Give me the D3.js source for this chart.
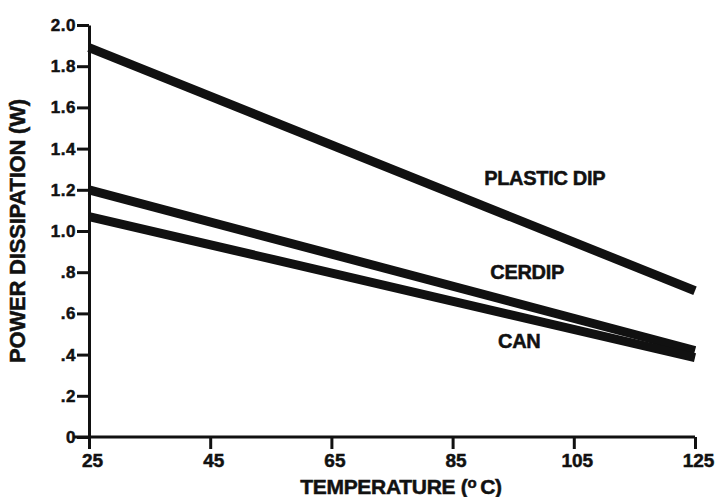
<!DOCTYPE html>
<html>
<head>
<meta charset="utf-8">
<script src="https://cdn.jsdelivr.net/npm/d3@7"></script>
<style>
  html, body { margin: 0; padding: 0; background: #fff; }
  svg { display: block; }
  text { font-family: "Liberation Sans", Arial, sans-serif; font-weight: bold; fill: #111; stroke: #111; stroke-width: 0.5px; }
</style>
</head>
<body>
<svg id="chart" width="720" height="497"></svg>
<script>
// ---- data ----
const temperatures = [25, 125];
const plasticDip = [1.89, 0.71];
const cerdip = [1.20, 0.42];
const can = [1.07, 0.385];
const seriesNames = ["PLASTIC DIP", "CERDIP", "CAN"];
// label anchor positions (in data units: temperature, watts)
const labelTemps = [100.2, 97.3, 96.0];
const labelWatts = [1.225, 0.765, 0.43];
const xTickValues = [25, 45, 65, 85, 105, 125];
const yTickValues = [0, 0.2, 0.4, 0.6, 0.8, 1.0, 1.2, 1.4, 1.6, 1.8, 2.0];
const yTickLabels = ["0", ".2", ".4", ".6", ".8", "1.0", "1.2", "1.4", "1.6", "1.8", "2.0"];
const xTitle = "TEMPERATURE";
const yTitle = "POWER DISSIPATION (W)";

// ---- layout ----
const svg = d3.select("#chart");
const x = d3.scaleLinear().domain([25, 125]).range([89, 695]);
const y = d3.scaleLinear().domain([0, 2.0]).range([437, 25]);
const ink = "#111";

// axes
const xAxis = d3.axisBottom(x).tickValues(xTickValues).tickFormat(d3.format("d"))
  .tickSize(12).tickSizeOuter(0).tickPadding(5);
const yAxis = d3.axisLeft(y).tickValues(yTickValues)
  .tickFormat((d, i) => yTickLabels[i]).tickSize(12).tickSizeOuter(0).tickPadding(1);

const gx = svg.append("g").attr("transform", `translate(0,${y(0)})`).call(xAxis);
const gy = svg.append("g").attr("transform", `translate(${x(25)},0)`).call(yAxis);

[gx, gy].forEach(g => {
  g.selectAll("path.domain").attr("stroke", ink).attr("stroke-width", 3);
  g.selectAll(".tick line").attr("stroke", ink).attr("stroke-width", 3);
  g.selectAll(".tick text").attr("fill", ink)
    .style("font-family", '"Liberation Sans", Arial, sans-serif')
    .style("font-weight", "bold")
    .style("stroke", ink).style("stroke-width", "0.5px");
});
gx.selectAll(".tick text").style("font-size", "19px").attr("dx", "3");
gy.selectAll(".tick text").style("font-size", "17px").style("letter-spacing", "0.5px");
// extend x-axis line left of the y axis (cross look at origin)
gx.select("path.domain").attr("d", `M${x(25) - 16},0H${x(125)}`);

// data lines
const allSeries = [plasticDip, cerdip, can];
const line = d3.line().x((d, i) => x(temperatures[i])).y(d => y(d));
svg.append("g").selectAll("path").data(allSeries).join("path")
  .attr("d", d => line(d))
  .attr("fill", "none")
  .attr("stroke", ink)
  .attr("stroke-width", 9)
  .attr("stroke-linecap", "butt");

// series labels
svg.append("g").selectAll("text").data(seriesNames).join("text")
  .attr("x", (d, i) => x(labelTemps[i]))
  .attr("y", (d, i) => y(labelWatts[i]))
  .attr("text-anchor", "middle")
  .style("font-size", "20px")
  .style("letter-spacing", "-0.3px")
  .text(d => d);

// x title
const xt = svg.append("text")
  .attr("x", 401).attr("y", 494)
  .attr("text-anchor", "middle")
  .style("font-size", "21px")
  .style("letter-spacing", "-0.3px");
xt.append("tspan").text(xTitle + " (");
xt.append("tspan").attr("dy", -6).style("font-size", "15px").text("o");
xt.append("tspan").attr("dy", 6).text("\u2009C)");

// y title
svg.append("text")
  .attr("transform", `translate(25,231) rotate(-90)`)
  .attr("text-anchor", "middle")
  .style("font-size", "22px")
  .style("letter-spacing", "-0.2px")
  .text(yTitle);
</script>
</body>
</html>
